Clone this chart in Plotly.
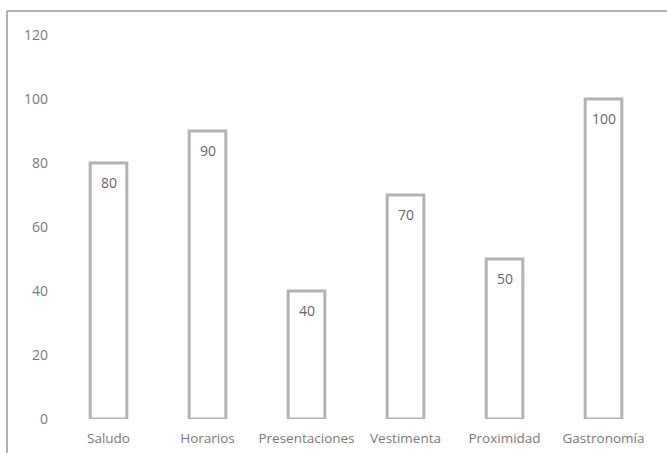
import plotly.graph_objects as go

categories = ["Saludo", "Horarios", "Presentaciones", "Vestimenta", "Proximidad", "Gastronomía"]
values = [80, 90, 40, 70, 50, 100]
y_ticks = [0, 20, 40, 60, 80, 100, 120]

GRAY_TEXT = "#7a7a7a"
BAR_LINE = "#b3b3b3"
FONT = "Open Sans"

W, H = 667, 453
ML, MR, MT, MB = 59, 14, 35, 34
pw = W - ML - MR
ph = H - MT - MB

fig = go.Figure()
fig.add_trace(go.Bar(
    x=categories, y=values,
    marker=dict(color="white", line=dict(color=BAR_LINE, width=3)),
    width=0.37,
    hoverinfo="skip",
))

for c, v in zip(categories, values):
    fig.add_annotation(x=c, y=v, text=str(v), showarrow=False,
                       yanchor="middle", yshift=-19,
                       font=dict(family=FONT, size=14, color="#666666"))

# outer frame
fig.add_shape(type="rect", xref="paper", yref="paper",
              x0=(7 - ML) / pw, x1=1.5, y0=-0.5, y1=(H - MB - 11) / ph,
              line=dict(color="#666666", width=1), fillcolor="rgba(0,0,0,0)",
              layer="below")

fig.update_layout(
    template="none",
    width=W, height=H,
    margin=dict(l=ML, r=MR, t=MT, b=MB, autoexpand=False),
    plot_bgcolor="white", paper_bgcolor="white",
    showlegend=False,
    font=dict(family=FONT, size=13, color=GRAY_TEXT),
    xaxis=dict(showgrid=False, showline=False, zeroline=False, ticks="",
               automargin=False,
               tickfont=dict(size=13.5, color=GRAY_TEXT), ticklabelstandoff=9),
    yaxis=dict(range=[0, 120], tickvals=y_ticks, showgrid=False, showline=False,
               zeroline=False, ticks="", ticklabelstandoff=10, automargin=False,
               tickfont=dict(size=14, color=GRAY_TEXT)),
)

fig.write_html("out.html")
